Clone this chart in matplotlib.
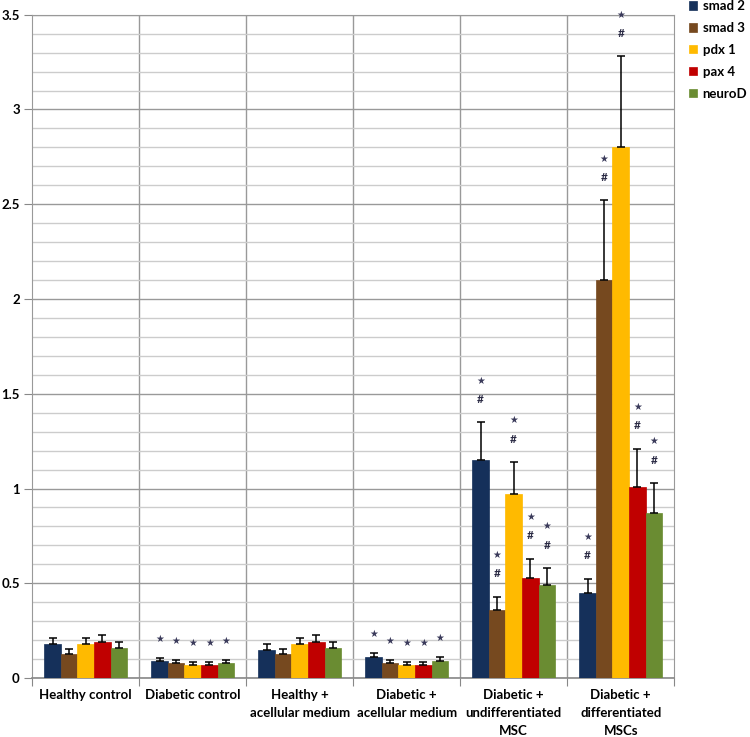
import numpy as np
import matplotlib
matplotlib.use("Agg")
from matplotlib import pyplot as plt
from matplotlib.ticker import MultipleLocator, FixedLocator, NullFormatter

groups = [
    "Healthy control",
    "Diabetic control",
    "Healthy +\nacellular medium",
    "Diabetic +\nacellular medium",
    "Diabetic +\nundifferentiated\nMSC",
    "Diabetic +\ndifferentiated\nMSCs",
]
series = ["smad 2", "smad 3", "pdx 1", "pax 4", "neuroD"]
colors = ["#15305A", "#76491F", "#FFBA00", "#C00000", "#6A8C32"]

smad2 = [0.18, 0.09, 0.15, 0.11, 1.15, 0.45]
smad3 = [0.125, 0.08, 0.125, 0.08, 0.36, 2.10]
pdx1 = [0.18, 0.07, 0.18, 0.07, 0.97, 2.80]
pax4 = [0.19, 0.07, 0.19, 0.07, 0.53, 1.01]
neurod = [0.16, 0.08, 0.16, 0.09, 0.49, 0.87]

smad2_err = [0.03, 0.015, 0.03, 0.02, 0.20, 0.075]
smad3_err = [0.03, 0.015, 0.03, 0.015, 0.07, 0.42]
pdx1_err = [0.03, 0.015, 0.03, 0.015, 0.17, 0.48]
pax4_err = [0.035, 0.015, 0.035, 0.015, 0.10, 0.20]
neurod_err = [0.03, 0.015, 0.03, 0.02, 0.09, 0.16]

# significance marks per group: "" none, "*" star only, "*#" star and hash
marks = ["", "*", "", "*", "*#", "*#"]

values = [smad2, smad3, pdx1, pax4, neurod]
errors = [smad2_err, smad3_err, pdx1_err, pax4_err, neurod_err]

plt.rcParams["font.family"] = ["Lato", "DejaVu Sans"]

fig = plt.figure(figsize=(7.5, 7.37), dpi=100)
ax = fig.add_axes([0.043, 0.080, 0.856, 0.900])

n = len(series)
x = np.arange(len(groups))
width = 0.155
star_kw = dict(ha="center", va="center", fontsize=7, color="#3a3a5a",
               family="DejaVu Sans", zorder=5, clip_on=False)
hash_kw = dict(ha="center", va="center", fontsize=8.5, fontweight="bold",
               color="#2a2a44", zorder=5, clip_on=False)

for i in range(n):
    pos = x + (i - (n - 1) / 2) * width
    ax.bar(pos, values[i], width, color=colors[i], edgecolor=colors[i],
           linewidth=0.5, label=series[i], zorder=3)
    ax.errorbar(pos, values[i], yerr=[np.zeros(len(groups)), errors[i]],
                fmt="none", ecolor="black", elinewidth=1.1, capsize=3,
                capthick=1.1, zorder=4)
    for j, m in enumerate(marks):
        if not m:
            continue
        top = values[i][j] + errors[i][j]
        if m == "*":
            ax.text(pos[j], top + 0.1, "★", **star_kw)
        else:
            ax.text(pos[j], top + 0.12, "#", **hash_kw)
            ax.text(pos[j], top + 0.22, "★", **star_kw)

ax.set_xlim(-0.5, len(groups) - 0.5)
ax.set_ylim(0, 3.5)

ax.yaxis.set_minor_locator(MultipleLocator(0.1))
ax.set_yticks(np.arange(0, 3.51, 0.5))
ax.set_yticklabels(["0", "0.5", "1", "1.5", "2", "2.5", "3", "3.5"],
                   fontweight="bold", fontsize=9.5)
ax.tick_params(axis="y", which="major", length=6, color="#888888", pad=3)
ax.tick_params(axis="y", which="minor", length=0)

ax.grid(axis="y", which="minor", color="#cccccc", linewidth=1.0, zorder=0)
ax.grid(axis="y", which="major", color="#999999", linewidth=1.0, zorder=0)

# category boundaries as vertical lines and x ticks
bounds = np.arange(len(groups) + 1) - 0.5
ax.xaxis.set_major_locator(FixedLocator(bounds))
ax.xaxis.set_major_formatter(NullFormatter())
ax.xaxis.set_minor_locator(FixedLocator(x))
ax.set_xticklabels(groups, minor=True, fontweight="bold", fontsize=9.5,
                   linespacing=1.6, va="top")
ax.tick_params(axis="x", which="major", length=6, color="#888888")
ax.tick_params(axis="x", which="minor", length=0, pad=8)
for b in bounds[1:-1]:
    ax.axvline(b, color="#999999", linewidth=1.0, zorder=1)

for side in ["left", "right", "top"]:
    ax.spines[side].set_color("#999999")
ax.spines["bottom"].set_color("#888888")
ax.spines["bottom"].set_linewidth(1.2)

ax.legend(loc="upper left", bbox_to_anchor=(1.005, 1.04), frameon=False,
          handlelength=0.6, handleheight=0.6, handletextpad=0.4,
          labelspacing=0.75, prop={"weight": "bold", "size": 9.5})

fig.savefig("out.png", dpi=100)
